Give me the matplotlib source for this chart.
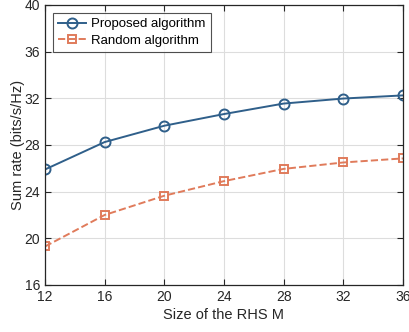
import numpy as np
import matplotlib.pyplot as plt

plt.rcParams['font.family'] = ['Liberation Sans', 'DejaVu Sans']

M = [12, 16, 20, 24, 28, 32, 36]
proposed = [25.9, 28.25, 29.65, 30.65, 31.55, 31.98, 32.25]
random_alg = [19.3, 22.0, 23.65, 24.9, 25.95, 26.5, 26.85]

fig = plt.figure(figsize=(4.09, 3.32), dpi=100)
ax = fig.add_axes([0.110, 0.1416, 0.875, 0.8434])

ax.plot(M, proposed, '-o', color='#2f5f8a', lw=1.4, ms=7.2, mfc='none', mew=1.4,
        label='Proposed algorithm')
ax.plot(M, random_alg, '--s', color='#e07b5b', lw=1.4, ms=6.2, mfc='none', mew=1.4,
        label='Random algorithm')

ax.set_xlim(12, 36)
ax.set_ylim(16, 40)
ax.set_xticks(np.arange(12, 37, 4))
ax.set_yticks(np.arange(16, 41, 4))
ax.grid(True, color='#dddddd', lw=0.8)
ax.set_axisbelow(True)
ax.tick_params(direction='in', labelsize=10, colors='#262626', top=True, right=True, length=4)
for s in ax.spines.values():
    s.set_color('#262626')
    s.set_linewidth(0.9)
ax.set_xlabel('Size of the RHS M', fontsize=10.5, color='#262626', labelpad=3)
ax.set_ylabel('Sum rate (bits/s/Hz)', fontsize=10.5, color='#262626', labelpad=0)

leg = ax.legend(loc='upper left', fontsize=9.5, fancybox=False, edgecolor='#262626',
                handlelength=2.1, borderaxespad=0.6, borderpad=0.4, labelspacing=0.3,
                handletextpad=0.4)
leg.get_frame().set_linewidth(0.8)

fig.savefig('out.png', dpi=100)
